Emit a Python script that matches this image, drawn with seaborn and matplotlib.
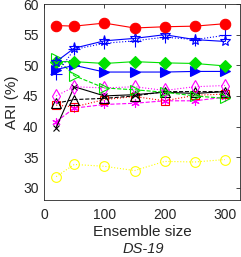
import matplotlib
matplotlib.use("Agg")
import matplotlib.pyplot as plt
import seaborn as sns

sizes = [20, 50, 100, 150, 200, 250, 300]

red_circle = [56.5, 56.4, 56.9, 56.1, 56.3, 56.4, 56.8]
blue_star = [50.6, 52.8, 54.0, 54.4, 55.0, 54.2, 53.9]
blue_plus = [48.5, 52.6, 53.6, 54.0, 54.6, 54.2, 54.9]
green_diamond = [50.6, 50.6, 50.3, 50.6, 50.4, 50.3, 49.9]
blue_tri = [49.3, 50.0, 48.9, 48.9, 48.9, 49.0, 49.0]
green_tri = [51.2, 48.3, 46.3, 46.0, 45.6, 45.0, 44.6]
magenta_diamond = [45.0, 46.5, 46.3, 46.5, 45.9, 46.5, 46.7]
black_x = [39.8, 46.5, 45.0, 45.2, 45.6, 45.4, 45.7]
black_tri = [43.8, 44.4, 44.6, 45.0, 45.7, 45.7, 45.7]
red_square = [43.5, 43.2, 44.4, 44.9, 44.2, 45.1, 45.3]
magenta_ast = [40.8, 43.0, 43.6, 43.8, 44.2, 44.2, 44.8]
yellow_circle = [31.8, 33.8, 33.5, 32.8, 34.3, 34.2, 34.6]

# (values, color, marker, linestyle, filled, markersize)
series = [
    (yellow_circle, "#ffff00", "o", ":", False, 7),
    (magenta_ast, "#ff00ff", (6, 2, 0), "--", False, 6),
    (red_square, "#ff0000", "s", ":", False, 6),
    (black_tri, "black", "^", "--", False, 7),
    (black_x, "black", "x", "-", False, 5),
    (magenta_diamond, "#ff00ff", "d", ":", False, 7),
    (green_tri, "#00e000", ">", "--", False, 7),
    (blue_tri, "#0000ff", ">", "-", True, 7.5),
    (green_diamond, "#00e000", "D", "-", True, 6),
    (blue_plus, "#0000ff", "+", ":", False, 8),
    (blue_star, "#0000ff", "*", "-", False, 8),
    (red_circle, "#ff0000", "o", "-", True, 7.5),
]

sns.set_style("white")
plt.rcParams["font.family"] = ["Liberation Sans", "DejaVu Sans"]

fig = plt.figure(figsize=(2.41, 2.57), dpi=100)
ax = fig.add_axes([0.183, 0.222, 0.813, 0.762])

for vals, col, mk, ls, filled, ms in series:
    sns.lineplot(x=sizes, y=vals, ax=ax, color=col, marker=mk, linestyle=ls,
                 markersize=ms, linewidth=0.8,
                 markerfacecolor=col if filled else "none",
                 markeredgecolor=col, markeredgewidth=0.8)

ax.set_xlim(0, 325)
ax.set_ylim(28, 60)
ax.set_xticks([0, 100, 200, 300])
ax.set_yticks([30, 35, 40, 45, 50, 55, 60])
ax.tick_params(direction="in", length=3, labelsize=10, colors="#262626",
               top=True, right=True, width=0.6)
ax.tick_params(axis="x", pad=6)
ax.tick_params(axis="y", pad=4)
for s in ax.spines.values():
    s.set_color("#262626")
    s.set_linewidth(0.6)
ax.set_xlabel("Ensemble size", fontsize=11, color="#262626", labelpad=2)
ax.set_ylabel("ARI (%)", fontsize=11, color="#262626", labelpad=3)
fig.text(0.595, 0.003, "DS-19", fontsize=10.5, style="italic", ha="center",
         va="bottom", color="#262626")

fig.savefig("out.png", dpi=100)
